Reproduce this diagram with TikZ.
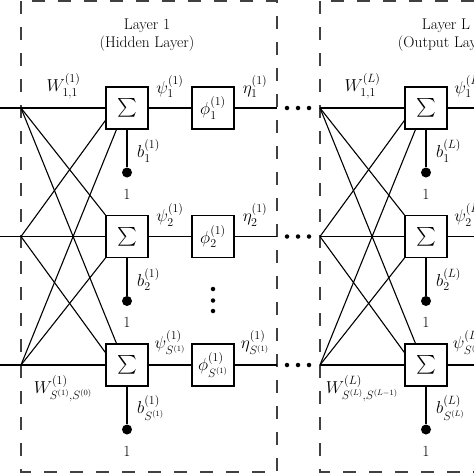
\documentclass[tikz,border=0pt]{standalone}
\usepackage{amsmath}
\usepackage{graphicx}
\begin{document}
\begin{tikzpicture}[x=1pt,y=-1pt,
  every node/.style={font=\fontsize{15.5}{18.5}\selectfont},
  mlbl/.style={inner sep=0pt, font=\fontsize{17}{20}\selectfont},
  blk/.style={draw, line width=1.2pt, minimum width=42pt, minimum height=42pt, inner sep=0pt},
  wire/.style={line width=1.1pt},
  frame/.style={line width=1.2pt, black!75, dash pattern=on 13pt off 13pt},
  biasdot/.style={circle, fill, inner sep=0pt, minimum size=10pt},
  smalldot/.style={circle, fill, inner sep=0pt, minimum size=4.5pt}]
\clip (0,0) rectangle (474,474);
\foreach \lay/\ox/\prv/\ttl in {1/0/0/Hidden, L/299/L-1/Output} {
  \begin{scope}[xshift=\ox]
  \draw[frame] (21,1) rectangle (277,472);
  \node[align=center, font=\fontsize{15.5}{17.5}\selectfont] (title\lay) at (147,35) {Layer \lay\\(\ttl\ Layer)};
  \foreach \r/\ry/\sb in {1/108/1, 2/236.5/2, 3/365/S^{(\lay)}} {
    \coordinate (in\lay\r) at (21,\ry);
    \node[blk] (s\lay\r) at (127,\ry) {\scalebox{1.3}{$\sum$}};
    \node[blk, font=\fontsize{17}{20}\selectfont] (f\lay\r) at (213,\ry) {$\phi_{\sb}^{(\lay)}$};
    \coordinate (o\lay\r) at (277,\ry);
    \draw[wire] (s\lay\r.east) -- (f\lay\r.west);
    \draw[wire] (f\lay\r.east) -- (o\lay\r);
    \node[mlbl, anchor=south] (psi\lay\r) at (170,\ry-10) {$\psi_{\sb}^{(\lay)}$};
    \node[mlbl, anchor=south] (eta\lay\r) at (255,\ry-10) {$\eta_{\sb}^{(\lay)}$};
    \node[biasdot] (bd\lay\r) at (127,\ry+64.5) {};
    \draw[wire] (s\lay\r.south) -- (bd\lay\r);
    \node[mlbl, anchor=west] (b\lay\r) at (137,\ry+43) {$b_{\sb}^{(\lay)}$};
    \node (one\lay\r) at (127,\ry+86) {1};
  }
  \draw[wire] (in\lay1) -- (s\lay1.west);
  \draw[wire] (in\lay1) -- (s\lay2.north west);
  \draw[wire] (in\lay1) -- (s\lay3.116);
  \draw[wire] (in\lay2) -- (s\lay1.210);
  \draw[wire] (in\lay2) -- (s\lay2.west);
  \draw[wire] (in\lay2) -- (s\lay3.150);
  \draw[wire] (in\lay3) -- (s\lay1.244);
  \draw[wire] (in\lay3) -- (s\lay2.south west);
  \draw[wire] (in\lay3) -- (s\lay3.west);
  \node[mlbl, anchor=south] (wtop\lay) at (63.5,99) {$W_{1,1}^{(\lay)}$};
  \node[mlbl, anchor=north] (wbot\lay) at (63,375) {$W_{S^{(\lay)},S^{(\prv)}}^{(\lay)}$};
  \node[smalldot] (vd\lay a) at (213,289) {};
  \node[smalldot] (vd\lay b) at (213,300.5) {};
  \node[smalldot] (vd\lay c) at (213,311) {};
  \end{scope}
}
% inputs entering layer 1 from the left
\foreach \r/\ry in {1/108, 2/236.5, 3/365} {
  \coordinate (src\r) at (-10,\ry);
  \draw[wire] (src\r) -- (in1\r);
  \node[smalldot] (hd\r a) at (287,\ry) {};
  \node[smalldot] (hd\r b) at (298,\ry) {};
  \node[smalldot] (hd\r c) at (309,\ry) {};
}
\end{tikzpicture}
\end{document}
